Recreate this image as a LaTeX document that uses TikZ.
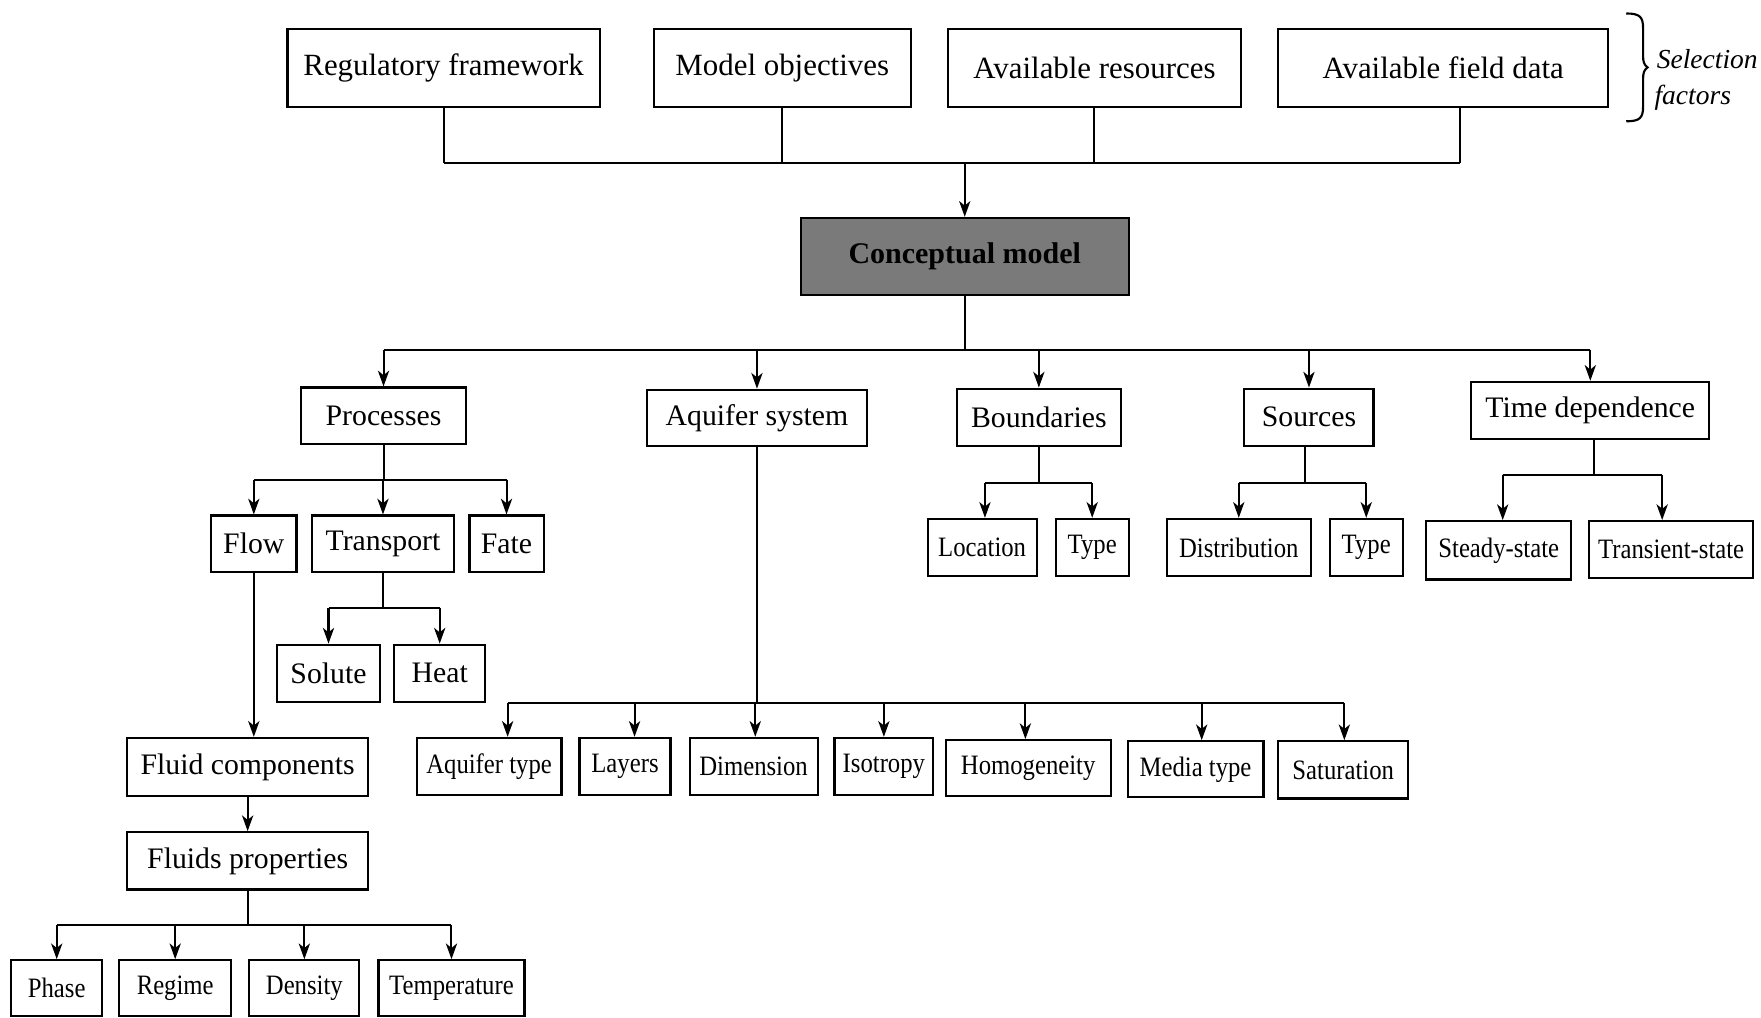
\documentclass[tikz,border=0pt]{standalone}
\usepackage{fontspec}
\setmainfont{Liberation Serif}
\newfontfamily\narrowserif[FakeStretch=0.88]{Liberation Serif}
\usetikzlibrary{arrows.meta}

\tikzset{
  box/.style={draw, line width=1.9pt, inner sep=0pt, align=center},
  bigtxt/.style={font=\fontsize{27.5}{30}\selectfont},
  midtxt/.style={font=\fontsize{26.5}{29}\selectfont},
  smalltxt/.style={font=\narrowserif\fontsize{25}{28}\selectfont},
  link/.style={line width=1.8pt},
  arr/.style={line width=1.8pt, -{Stealth[length=14pt,width=10pt,inset=4pt]}},
}

\begin{document}
\begin{tikzpicture}[x=1pt, y=-1pt]
\useasboundingbox (0,0) rectangle (1568,906);

% ---- selection factors ----
\node[box,bigtxt,minimum width=278pt,minimum height=69pt] (reg) at (395,60.5) {Regulatory framework};
\node[box,bigtxt,minimum width=229pt,minimum height=69pt] (obj) at (696.5,60.5) {Model objectives};
\node[box,bigtxt,minimum width=261pt,minimum height=69pt] (res) at (974.5,60.5) {Available resources};
\node[box,bigtxt,minimum width=294pt,minimum height=69pt] (fld) at (1285,60.5) {Available field data};

\draw[line width=1.9pt] (1448,12) .. controls (1460,12) and (1463,15) .. (1463,25)
  -- (1463,50) .. controls (1463,55) and (1464,58) .. (1467,60)
  .. controls (1464,62) and (1463,65) .. (1463,70)
  -- (1463,95) .. controls (1463,105) and (1460,108) .. (1448,108);
\node[anchor=base west, font=\itshape\fontsize{24.5}{27}\selectfont, inner sep=0pt] (selA) at (1475,61) {Selection};
\node[anchor=base west, font=\itshape\fontsize{24.5}{27}\selectfont, inner sep=0pt] (selB) at (1473,93) {factors};

% ---- conceptual model ----
\node[box, font=\bfseries\fontsize{26.7}{29}\selectfont, fill=black!52,
      minimum width=292pt, minimum height=69pt] (cm) at (859,228.5) {Conceptual model};

\coordinate (topjoin) at (859,145);
\coordinate (flddrop) at ([xshift=15pt]fld.south);
\draw[link] (reg.south) -- (reg.south |- topjoin);
\draw[link] (obj.south) -- (obj.south |- topjoin);
\draw[link] (res.south) -- (res.south |- topjoin);
\draw[link] (flddrop) -- (flddrop |- topjoin);
\draw[link] (reg.south |- topjoin) -- (flddrop |- topjoin);
\draw[arr] (topjoin) -- (cm.north);

% ---- main components ----
\node[box,midtxt,minimum width=147pt,minimum height=50pt] (proc) at (341.5,370) {Processes};
\node[box,midtxt,minimum width=196pt,minimum height=50pt] (aq) at (674,372) {Aquifer system};
\node[box,midtxt,minimum width=146pt,minimum height=51pt] (bnd) at (925,371.5) {Boundaries};
\node[box,midtxt,minimum width=115pt,minimum height=51pt] (src) at (1165.5,371.5) {Sources};
\node[box,midtxt,minimum width=212pt,minimum height=51pt] (time) at (1416,365.5) {Time dependence};

\coordinate (midjoin) at (859,312);
\draw[link] (cm.south) -- (midjoin);
\draw[link] (proc.north |- midjoin) -- (time.north |- midjoin);
\foreach \n in {proc,aq,bnd,src,time}
  \draw[arr] (\n.north |- midjoin) -- (\n.north);

% ---- processes ----
\node[box,midtxt,minimum width=76pt,minimum height=50pt] (flow) at (226,484) {Flow};
\node[box,midtxt,minimum width=126pt,minimum height=50pt] (trans) at (341,484) {Transport};
\node[box,midtxt,minimum width=66pt,minimum height=50pt] (fate) at (451,484) {Fate};

\coordinate (procjoin) at (341.5,427);
\draw[link] (proc.south) -- (procjoin);
\draw[link] (flow.north |- procjoin) -- (fate.north |- procjoin);
\foreach \n in {flow,trans,fate}
  \draw[arr] (\n.north |- procjoin) -- (\n.north);

\node[box,midtxt,minimum width=91pt,minimum height=51pt] (sol) at (292.5,599.5) {Solute};
\node[box,midtxt,minimum width=81pt,minimum height=51pt] (heat) at (391.5,599.5) {Heat};

\coordinate (transjoin) at (341,541);
\draw[link] (trans.south) -- (transjoin);
\draw[link] (sol.north |- transjoin) -- (heat.north |- transjoin);
\foreach \n in {sol,heat}
  \draw[arr] (\n.north |- transjoin) -- (\n.north);

% ---- fluids ----
\node[box,midtxt,minimum width=215pt,minimum height=52pt] (fc) at (220.5,683) {Fluid components};
\node[box,midtxt,minimum width=215pt,minimum height=51pt] (fp) at (220.5,766.5) {Fluids properties};
\draw[arr] (flow.south) -- (flow.south |- fc.north);
\draw[arr] (fc.south) -- (fc.south |- fp.north);

\node[box,smalltxt,minimum width=81pt,minimum height=50pt] (phase) at (50.5,880) {Phase};
\node[box,smalltxt,minimum width=100pt,minimum height=50pt] (regime) at (156,880) {Regime};
\node[box,smalltxt,minimum width=98pt,minimum height=50pt] (dens) at (271,880) {Density};
\node[box,smalltxt,minimum width=130pt,minimum height=50pt] (temp) at (402,880) {Temperature};

\coordinate (fpjoin) at (220.5,824);
\draw[link] (fp.south) -- (fpjoin);
\draw[link] (phase.north |- fpjoin) -- (temp.north |- fpjoin);
\foreach \n in {phase,regime,dens,temp}
  \draw[arr] (\n.north |- fpjoin) -- (\n.north);

% ---- aquifer system ----
\node[box,smalltxt,minimum width=129pt,minimum height=51pt] (aqt) at (435.5,682.5) {Aquifer type};
\node[box,smalltxt,minimum width=81pt,minimum height=51pt] (lay) at (556.5,682.5) {Layers};
\node[box,smalltxt,minimum width=114pt,minimum height=51pt] (dim) at (671,682.5) {Dimension};
\node[box,smalltxt,minimum width=88pt,minimum height=51pt] (iso) at (787,682.5) {Isotropy};
\node[box,smalltxt,minimum width=147pt,minimum height=50pt] (hom) at (915.5,684) {Homogeneity};
\node[box,smalltxt,minimum width=121pt,minimum height=50pt] (med) at (1064.5,685) {Media type};
\node[box,smalltxt,minimum width=116pt,minimum height=51pt] (sat) at (1196,685.5) {Saturation};

\coordinate (aqjoin) at (674,626);
\coordinate (aqtin) at ([xshift=16.5pt]aqt.north);
\coordinate (layin) at ([xshift=8.5pt]lay.north);
\coordinate (dimin) at ([xshift=1.5pt]dim.north);
\coordinate (isoin) at (iso.north);
\coordinate (homin) at ([xshift=-2.5pt]hom.north);
\coordinate (medin) at ([xshift=5.5pt]med.north);
\coordinate (satin) at ([xshift=1pt]sat.north);
\draw[link] (aq.south) -- (aqjoin);
\draw[link] (aqtin |- aqjoin) -- (satin |- aqjoin);
\foreach \n in {aqtin,layin,dimin,isoin,homin,medin,satin}
  \draw[arr] (\n |- aqjoin) -- (\n);

% ---- boundaries ----
\node[box,smalltxt,minimum width=97pt,minimum height=51pt] (loc) at (874.5,487.5) {Location};
\node[box,smalltxt,minimum width=65pt,minimum height=51pt] (btype) at (972.5,487.5) {Type};
\coordinate (bndjoin) at (925,430);
\coordinate (locin) at ([xshift=2.5pt]loc.north);
\draw[link] (bnd.south) -- (bndjoin);
\draw[link] (locin |- bndjoin) -- (btype.north |- bndjoin);
\draw[arr] (locin |- bndjoin) -- (locin);
\draw[arr] (btype.north |- bndjoin) -- (btype.north);

% ---- sources ----
\node[box,smalltxt,minimum width=128pt,minimum height=51pt] (dist) at (1103,487.5) {Distribution};
\node[box,smalltxt,minimum width=65pt,minimum height=51pt] (stype) at (1216.5,487.5) {Type};
\coordinate (srcout) at ([xshift=-3.5pt]src.south);
\draw[link] (srcout) -- (srcout |- bndjoin);
\draw[link] (dist.north |- bndjoin) -- (stype.north |- bndjoin);
\draw[arr] (dist.north |- bndjoin) -- (dist.north);
\draw[arr] (stype.north |- bndjoin) -- (stype.north);

% ---- time dependence ----
\node[box,smalltxt,minimum width=129pt,minimum height=52pt] (steady) at (1334.5,490) {Steady-state};
\node[box,smalltxt,minimum width=146pt,minimum height=51pt] (transient) at (1488,489.5) {Transient-state};
\coordinate (timeout) at ([xshift=3pt]time.south);
\coordinate (timejoin) at (1419,423);
\coordinate (steadyin) at ([xshift=3.5pt]steady.north);
\coordinate (transin) at ([xshift=-8pt]transient.north);
\draw[link] (timeout) -- (timejoin);
\draw[link] (steadyin |- timejoin) -- (transin |- timejoin);
\draw[arr] (steadyin |- timejoin) -- (steadyin);
\draw[arr] (transin |- timejoin) -- (transin);

\end{tikzpicture}
\end{document}
